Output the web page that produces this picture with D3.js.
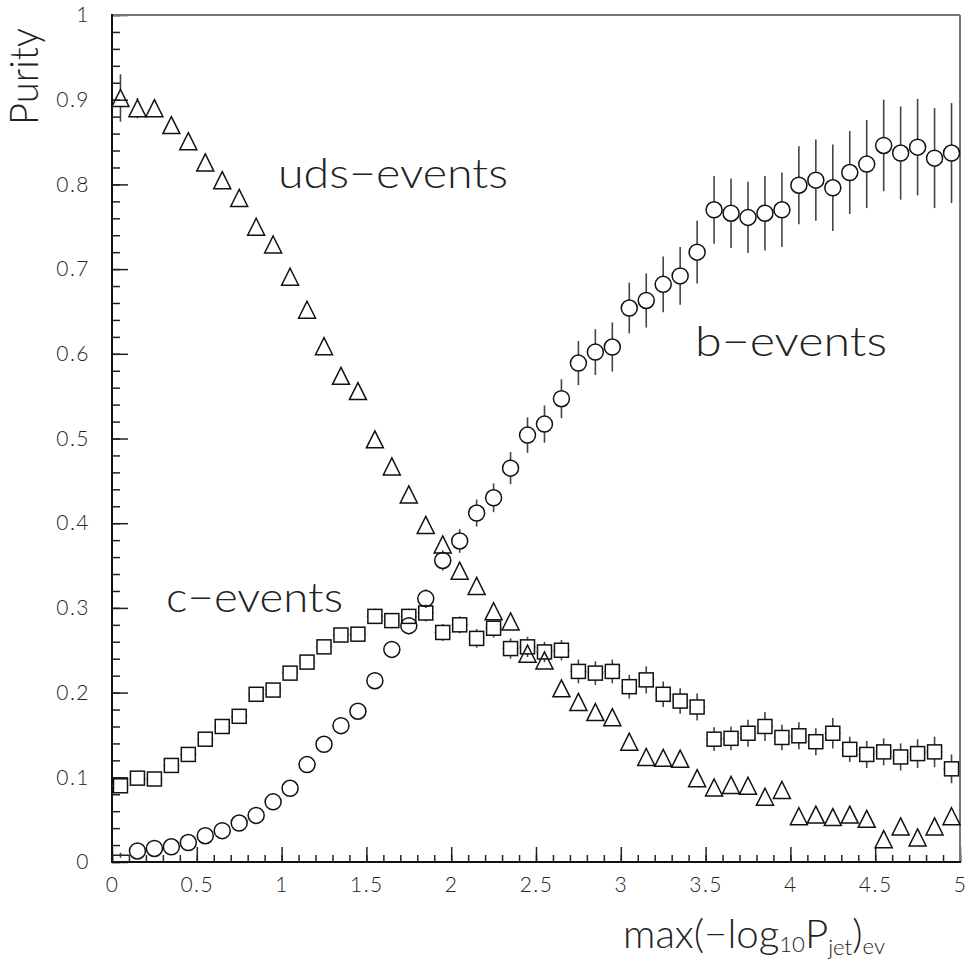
<!DOCTYPE html>
<html>
<head>
<meta charset="utf-8">
<script src="https://cdn.jsdelivr.net/npm/d3@7"></script>
<style>
  html, body { margin: 0; padding: 0; background: #fff; }
  svg { display: block; }
  text { font-family: "Lato", "DejaVu Sans", sans-serif; font-weight: 300; fill: #222; }
</style>
</head>
<body>
<div id="chart"></div>
<script>
// bin centres of max(-log10 P_jet)_ev
const xBins = [0.05, 0.15, 0.25, 0.35, 0.45, 0.55, 0.65, 0.75, 0.85, 0.95,
  1.05, 1.15, 1.25, 1.35, 1.45, 1.55, 1.65, 1.75, 1.85, 1.95,
  2.05, 2.15, 2.25, 2.35, 2.45, 2.55, 2.65, 2.75, 2.85, 2.95,
  3.05, 3.15, 3.25, 3.35, 3.45, 3.55, 3.65, 3.75, 3.85, 3.95,
  4.05, 4.15, 4.25, 4.35, 4.45, 4.55, 4.65, 4.75, 4.85, 4.95];

// uds-events (triangles)
const udsPurity = [0.902, 0.890, 0.890, 0.870, 0.851, 0.826, 0.805, 0.784, 0.750, 0.729,
  0.691, 0.652, 0.609, 0.574, 0.556, 0.499, 0.467, 0.434, 0.398, 0.375,
  0.344, 0.326, 0.296, 0.284, 0.246, 0.238, 0.205, 0.189, 0.177, 0.171,
  0.142, 0.124, 0.123, 0.122, 0.099, 0.088, 0.091, 0.090, 0.077, 0.085,
  0.054, 0.056, 0.053, 0.056, 0.051, 0.027, 0.042, 0.029, 0.042, 0.054];
const udsErr = [0.028, 0.012, 0.008, 0.007, 0.007, 0.007, 0.007, 0.006, 0.006, 0.006,
  0.006, 0.006, 0.006, 0.006, 0.006, 0.007, 0.007, 0.007, 0.007, 0.008,
  0.008, 0.008, 0.008, 0.008, 0.010, 0.010, 0.010, 0.010, 0.010, 0.010,
  0.010, 0.010, 0.010, 0.010, 0.010, 0.010, 0.010, 0.010, 0.010, 0.010,
  0.010, 0.010, 0.010, 0.010, 0.010, 0.010, 0.010, 0.010, 0.010, 0.010];

// c-events (squares)
const cPurity = [0.090, 0.099, 0.098, 0.114, 0.127, 0.145, 0.160, 0.172, 0.198, 0.203,
  0.223, 0.236, 0.254, 0.268, 0.269, 0.290, 0.285, 0.290, 0.294, 0.271,
  0.280, 0.264, 0.276, 0.252, 0.254, 0.248, 0.250, 0.225, 0.223, 0.225,
  0.207, 0.215, 0.198, 0.190, 0.183, 0.145, 0.146, 0.152, 0.160, 0.147,
  0.149, 0.142, 0.152, 0.133, 0.127, 0.130, 0.124, 0.128, 0.130, 0.110];
const cErr = [0.004, 0.004, 0.004, 0.005, 0.005, 0.005, 0.006, 0.006, 0.006, 0.007,
  0.007, 0.007, 0.008, 0.008, 0.008, 0.009, 0.009, 0.009, 0.010, 0.010,
  0.010, 0.011, 0.011, 0.012, 0.012, 0.012, 0.012, 0.014, 0.014, 0.014,
  0.014, 0.016, 0.015, 0.015, 0.016, 0.014, 0.014, 0.016, 0.017, 0.015,
  0.016, 0.016, 0.018, 0.015, 0.016, 0.016, 0.016, 0.017, 0.018, 0.017];

// b-events (circles)
const bPurity = [0.008, 0.013, 0.016, 0.018, 0.023, 0.031, 0.037, 0.046, 0.055, 0.071,
  0.087, 0.115, 0.139, 0.161, 0.178, 0.214, 0.251, 0.279, 0.311, 0.356,
  0.379, 0.412, 0.430, 0.465, 0.504, 0.517, 0.547, 0.589, 0.602, 0.608,
  0.654, 0.663, 0.682, 0.692, 0.720, 0.770, 0.766, 0.761, 0.766, 0.770,
  0.799, 0.805, 0.796, 0.814, 0.824, 0.846, 0.837, 0.844, 0.831, 0.837];
const bErr = [0.003, 0.003, 0.003, 0.004, 0.004, 0.004, 0.005, 0.005, 0.005, 0.006,
  0.006, 0.007, 0.007, 0.008, 0.008, 0.009, 0.009, 0.010, 0.011, 0.012,
  0.014, 0.016, 0.017, 0.019, 0.021, 0.022, 0.023, 0.026, 0.027, 0.029,
  0.030, 0.032, 0.033, 0.034, 0.037, 0.040, 0.041, 0.042, 0.044, 0.044,
  0.046, 0.048, 0.051, 0.049, 0.052, 0.054, 0.055, 0.057, 0.059, 0.059];

const binHalf = 0.05;
const yMajor = [0, 0.1, 0.2, 0.3, 0.4, 0.5, 0.6, 0.7, 0.8, 0.9, 1];
const xMajor = [0, 0.5, 1, 1.5, 2, 2.5, 3, 3.5, 4, 4.5, 5];
const yTickLabels = ['0', '0.1', '0.2', '0.3', '0.4', '0.5', '0.6', '0.7', '0.8', '0.9', '1'];
const xTickLabels = ['0', '0.5', '1', '1.5', '2', '2.5', '3', '3.5', '4', '4.5', '5'];

const W = 968, H = 963;
const svg = d3.select('#chart').append('svg').attr('width', W).attr('height', H);

const x = d3.scaleLinear().domain([0, 5]).range([112, 960]);
const y = d3.scaleLinear().domain([0, 1]).range([862, 15]);

// minor ticks
svg.append('g')
  .attr('transform', 'translate(112,0)')
  .call(d3.axisLeft(y).ticks(50).tickSizeInner(-8).tickSizeOuter(0).tickFormat(''))
  .call(g => g.select('.domain').remove())
  .selectAll('line').attr('stroke', '#222').attr('stroke-width', 1.5);
svg.append('g')
  .attr('transform', 'translate(0,862)')
  .call(d3.axisBottom(x).ticks(50).tickSizeInner(-7).tickSizeOuter(0).tickFormat(''))
  .call(g => g.select('.domain').remove())
  .selectAll('line').attr('stroke', '#222').attr('stroke-width', 1.5);

// major ticks + labels
const yAxis = svg.append('g')
  .attr('transform', 'translate(112,0)')
  .call(d3.axisLeft(y).tickValues(yMajor).tickSizeInner(-16).tickSizeOuter(0)
    .tickPadding(22).tickFormat((d, i) => yTickLabels[i]));
yAxis.select('.domain').remove();
yAxis.selectAll('line').attr('stroke', '#222').attr('stroke-width', 1.5);
yAxis.selectAll('text').attr('font-size', 21).attr('font-family', null).attr('fill', '#222')
  .attr('letter-spacing', 1.5);

const xAxis = svg.append('g')
  .attr('transform', 'translate(0,862)')
  .call(d3.axisBottom(x).tickValues(xMajor).tickSizeInner(-15).tickSizeOuter(0)
    .tickPadding(15).tickFormat((d, i) => xTickLabels[i]));
xAxis.select('.domain').remove();
xAxis.selectAll('line').attr('stroke', '#222').attr('stroke-width', 1.5);
xAxis.selectAll('text').attr('font-size', 21).attr('font-family', null).attr('fill', '#222')
  .attr('letter-spacing', 1.5);

// frame
svg.append('line').attr('x1', 112).attr('x2', 960).attr('y1', 15).attr('y2', 15)
  .attr('stroke', '#777').attr('stroke-width', 2);
svg.append('line').attr('x1', 960).attr('x2', 960).attr('y1', 15).attr('y2', 862)
  .attr('stroke', '#777').attr('stroke-width', 2);
svg.append('line').attr('x1', 112).attr('x2', 112).attr('y1', 14).attr('y2', 863)
  .attr('stroke', '#111').attr('stroke-width', 2);
svg.append('line').attr('x1', 111).attr('x2', 961).attr('y1', 862).attr('y2', 862)
  .attr('stroke', '#111').attr('stroke-width', 2);

// series
const series = [
  {name: 'uds', vals: udsPurity, errs: udsErr, shape: 'triangle', half: 8.5},
  {name: 'c', vals: cPurity, errs: cErr, shape: 'square', half: 7},
  {name: 'b', vals: bPurity, errs: bErr, shape: 'circle', half: 8}
];

series.forEach(s => {
  const g = svg.append('g').attr('class', 'series-' + s.name);
  const pts = xBins.map((xv, i) => ({x: xv, v: s.vals[i], e: s.errs[i]}));

  pts.forEach(p => {
    const cx = x(p.x), cy = y(p.v);
    const hidden = cy + s.half > y(0);   // marker crossing the frame is not drawn
    const gap = hidden ? 0 : s.half;
    const top = y(p.v + p.e), bot = y(p.v - p.e);

    // vertical error bar (outside marker)
    if (cy - top > gap) {
      g.append('line').attr('x1', cx).attr('x2', cx).attr('y1', top).attr('y2', cy - gap)
        .attr('stroke', '#444').attr('stroke-width', 1.6);
    }
    if (bot - cy > gap) {
      g.append('line').attr('x1', cx).attr('x2', cx).attr('y1', cy + gap).attr('y2', Math.min(bot, y(0)))
        .attr('stroke', '#444').attr('stroke-width', 1.6);
    }
    // horizontal bin-width bar stubs
    const xl = x(p.x - binHalf), xr = x(p.x + binHalf);
    if (cx - xl > gap) {
      g.append('line').attr('x1', xl).attr('x2', cx - gap).attr('y1', cy).attr('y2', cy)
        .attr('stroke', hidden ? '#222' : '#999').attr('stroke-width', hidden ? 1.5 : 1);
      g.append('line').attr('x1', cx + gap).attr('x2', xr).attr('y1', cy).attr('y2', cy)
        .attr('stroke', hidden ? '#222' : '#999').attr('stroke-width', hidden ? 1.5 : 1);
    }

    if (hidden) return;
    if (s.shape === 'circle') {
      g.append('circle').attr('cx', cx).attr('cy', cy).attr('r', s.half)
        .attr('fill', 'none').attr('stroke', '#111').attr('stroke-width', 1.5);
    } else if (s.shape === 'square') {
      g.append('rect').attr('x', cx - s.half).attr('y', cy - s.half)
        .attr('width', 2 * s.half).attr('height', 2 * s.half)
        .attr('fill', 'none').attr('stroke', '#111').attr('stroke-width', 1.5);
    } else {
      const h = s.half;
      g.append('path')
        .attr('d', `M${cx},${cy - h}L${cx + h},${cy + h}L${cx - h},${cy + h}Z`)
        .attr('fill', 'none').attr('stroke', '#111').attr('stroke-width', 1.5);
    }
  });
});

// labels inside the plot
svg.append('text').attr('x', 278).attr('y', 188).attr('font-size', 42)
  .attr('textLength', 230).attr('lengthAdjust', 'spacingAndGlyphs').text('uds\u2212events');
svg.append('text').attr('x', 695).attr('y', 356).attr('font-size', 42)
  .attr('textLength', 192).attr('lengthAdjust', 'spacingAndGlyphs').text('b\u2212events');
svg.append('text').attr('x', 166).attr('y', 612).attr('font-size', 42)
  .attr('textLength', 177).attr('lengthAdjust', 'spacingAndGlyphs').text('c\u2212events');

// axis titles
svg.append('text').attr('transform', 'translate(38,125) rotate(-90)')
  .attr('font-size', 40).attr('textLength', 97).attr('lengthAdjust', 'spacingAndGlyphs')
  .text('Purity');

const xt = svg.append('text').attr('x', 623).attr('y', 948).attr('font-size', 40)
  .attr('textLength', 262).attr('lengthAdjust', 'spacingAndGlyphs');
xt.append('tspan').text('max(\u2212log');
xt.append('tspan').attr('font-size', 22).attr('dy', 4).text('10');
xt.append('tspan').attr('dy', -4).text('P');
xt.append('tspan').attr('font-size', 22).attr('dy', 7).text('jet');
xt.append('tspan').attr('dy', -7).text(')');
xt.append('tspan').attr('font-size', 22).attr('dy', 6).text('ev');
</script>
</body>
</html>
